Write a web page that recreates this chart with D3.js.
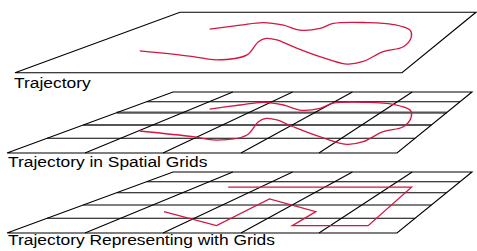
<!DOCTYPE html>
<html lang="en">
<head>
    <meta charset="UTF-8">
    <title>Trajectory in grids</title>
    <style>
        body {
            margin: 0;
            padding: 0;
            background: #fff;
        }
        svg text {
            font-family: "Liberation Sans", Arial, sans-serif;
            font-size: 14.5px;
            fill: #000;
        }
    </style>
</head>
<body>
    <div id="chart"></div>

    <script src="https://d3js.org/d3.v7.min.js"></script>
    <script>
        // ---- data (grid units: u = column 0..5 from left, v = row 0..5 from front) ----
        const labels = ["Trajectory", "Trajectory in Spatial Grids", "Trajectory Representing with Grids"];
        const nCols = 5;
        const nRows = 5;

        // raw trajectory
        const trackU = [1.02, 1.94, 2.35, 2.63, 2.42, 2.44, 2.64, 3.06, 3.67, 4.19, 4.36, 4.44, 4.63, 4.55,
                        4.39, 4.00, 3.53, 3.02, 2.96, 2.70, 2.29, 1.88, 1.61, 1.28];
        const trackV = [1.55, 1.12, 0.88, 1.25, 2.27, 2.54, 2.41, 1.87, 1.12, 0.59, 0.77, 1.50, 1.87, 2.67,
                        3.24, 3.76, 3.94, 3.86, 3.40, 3.24, 3.70, 3.94, 3.70, 3.33];

        // same trajectory snapped to grid cells
        const cellU = [1.38, 2.5, 2.5, 3.5, 3.5, 4.5, 4.35, 1.5];
        const cellV = [1.5, 0.5, 2.5, 1.5, 0.5, 0.5, 3.5, 3.5];

        // ---- layout ----
        const width = 477, height = 251;
        const rowDepth = [0, 0.241, 0.459, 0.661, 0.841, 1]; // perspective spacing of rows
        const planes = [
            { bottom: 72.7, top: 12.3, bl: 15, br: 402, tl: 180, tr: 476, grid: false, cells: false, lx: 14, ly: 87.5 },
            { bottom: 153, top: 92, bl: 7, br: 397, tl: 173, tr: 472, grid: true, cells: false, lx: 8, ly: 167.3, thick: [2, 3] },
            { bottom: 233, top: 172, bl: 7, br: 397, tl: 173, tr: 472, grid: true, cells: true, lx: 8, ly: 245.3, thick: [] }
        ];
        const ground = { bl: 7, br: 397, tl: 173, tr: 472 }; // where the trajectory sits in x

        const svg = d3.select("#chart")
            .append("svg")
            .attr("width", width)
            .attr("height", height);

        svg.append("rect").attr("width", width).attr("height", height).attr("fill", "#fff");

        const depth = d3.scaleLinear().domain(d3.range(nRows + 1)).range(rowDepth);

        function makeProj(p, xs) {
            const yS = d3.scaleLinear().domain([0, 1]).range([p.bottom, p.top]);
            const bx = d3.scaleLinear().domain([0, nCols]).range([xs.bl, xs.br]);
            const tx = d3.scaleLinear().domain([0, nCols]).range([xs.tl, xs.tr]);
            return (u, v) => {
                const s = depth(v);
                return [bx(u) * (1 - s) + tx(u) * s, yS(s)];
            };
        }

        const line = d3.line();
        const smooth = d3.line().curve(d3.curveCatmullRom.alpha(0.5));

        planes.forEach((p, i) => {
            const proj = makeProj(p, p);
            const tproj = makeProj(p, ground);
            const g = svg.append("g");

            if (p.grid) {
                // rows
                d3.range(1, nRows).forEach(r => {
                    const thick = p.thick.includes(r);
                    g.append("path")
                        .attr("d", line([proj(0, r), proj(nCols, r)]))
                        .attr("stroke", thick ? "#555" : "#000")
                        .attr("stroke-width", thick ? 2.2 : 1.1)
                        .attr("fill", "none");
                });
                // columns
                d3.range(1, nCols).forEach(c => {
                    g.append("path")
                        .attr("d", line([proj(c, 0), proj(c, nRows)]))
                        .attr("stroke", "#000")
                        .attr("stroke-width", 1.1)
                        .attr("fill", "none");
                });
            }

            // outline
            g.append("path")
                .attr("d", line([proj(0, 0), proj(nCols, 0), proj(nCols, nRows), proj(0, nRows)]) + "Z")
                .attr("stroke", "#000")
                .attr("stroke-width", 1.1)
                .attr("fill", "none");

            // trajectory
            const pts = p.cells
                ? cellU.map((u, k) => tproj(u, cellV[k]))
                : trackU.map((u, k) => tproj(u, trackV[k]));
            g.append("path")
                .attr("d", (p.cells ? line : smooth)(pts))
                .attr("stroke", "#d3173f")
                .attr("stroke-width", 1.3)
                .attr("fill", "none");

            svg.append("text")
                .attr("transform", `translate(${p.lx},${p.ly}) scale(1.2,1)`)
                .text(labels[i]);
        });
    </script>
</body>
</html>
